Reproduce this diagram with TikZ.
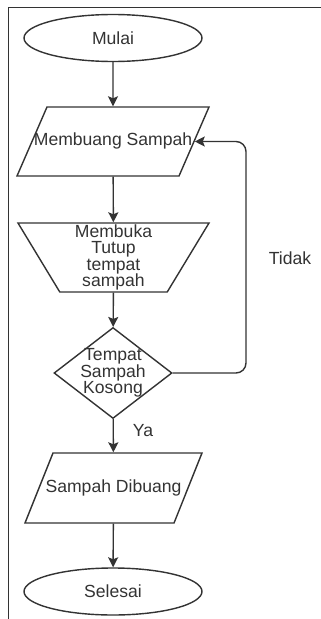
\documentclass[tikz,border=0pt]{standalone}
\usepackage{fontspec}
\setmainfont{Liberation Sans}
\usetikzlibrary{shapes.geometric,arrows.meta}
\definecolor{ink}{HTML}{333333}
\begin{document}
\begin{tikzpicture}[x=0.03cm,y=-0.03cm,
  every node/.style={font=\fontsize{15}{14}\selectfont,text=ink},
  terminal/.style={ellipse,draw=ink,line width=1.2pt,minimum width=5.34cm,minimum height=1.41cm},
  io/.style={trapezium,draw=ink,line width=1.2pt,inner xsep=0pt,text height=0.35cm,text depth=0.1cm},
  manual/.style={trapezium,trapezium stretches body=true,shape border rotate=180,trapezium angle=57.5,draw=ink,line width=1.2pt,minimum width=5.73cm,minimum height=2.07cm,inner sep=0pt,align=center},
  decision/.style={diamond,shape aspect=1.3,draw=ink,line width=1.2pt,minimum width=3.54cm,minimum height=2.73cm,inner sep=-2.2pt,align=center},
  flow/.style={draw=ink,line width=1.2pt,-{Stealth[length=0.3cm,width=0.3cm,inset=0.06cm]}}]
\useasboundingbox (0,0) rectangle (321,619);
\draw[draw=ink,line width=1.6pt] (321,7.5) -- (8.5,7.5) -- (8.5,619);
\node [terminal] (mulai) at (113,38) {Mulai};
\node [io,trapezium left angle=66.5,trapezium right angle=113.5,inner ysep=0.81cm] (buang) at (113,141.5) {\makebox[3.96cm]{Membuang Sampah}};
\node [manual] (buka) at (113.5,257.5) {Membuka\\Tutup\\tempat\\sampah};
\node [decision] (cek) at (113,373) {Tempat\\Sampah\\Kosong};
\node [io,trapezium left angle=68.2,trapezium right angle=111.8,inner ysep=0.825cm] (dibuang) at (113.5,488) {\makebox[3.63cm]{Sampah Dibuang}};
\node [terminal] (selesai) at (113,591.5) {Selesai};
\coordinate (loop) at (246,258);
\node (tidak) at (290,258) {Tidak};
\node (ya) at (143,431) {Ya};
\draw [flow] (mulai) -- (buang);
\draw [flow] (buang) -- (buka);
\draw [flow] (buka) -- (cek);
\draw [flow] (cek) -- (dibuang);
\draw [flow] (dibuang) -- (selesai);
\draw [flow,rounded corners=0.3cm] (cek.east) -| (loop) |- (buang.east);
\end{tikzpicture}
\end{document}
